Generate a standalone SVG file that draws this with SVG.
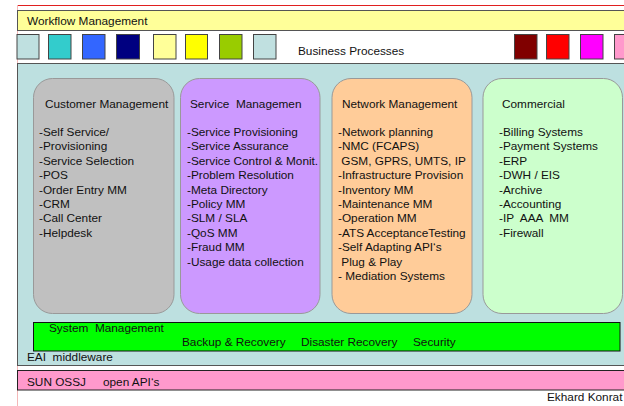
<svg xmlns="http://www.w3.org/2000/svg" width="624" height="406" viewBox="0 0 624 406">
  <style>
    text { font-family: "Liberation Sans", Arial, sans-serif; font-size: 11.8px; fill: #111; white-space: pre; }
    .band { stroke: #555; stroke-width: 1; }
    .sq { stroke: #444; stroke-width: 1; }
    .dom { stroke: #999; stroke-width: 1; }
  </style>

  <!-- page frame -->
  <line x1="17" y1="5.5" x2="624" y2="5.5" stroke="#e02020" stroke-width="1"/>
  <line x1="17.5" y1="5" x2="17.5" y2="406" stroke="#f4b8b8" stroke-width="1"/>

  <!-- workflow layer -->
  <g id="workflow">
    <rect x="17.5" y="10.5" width="620" height="20" fill="#ffff99" class="band"/>
    <text x="27" y="25">Workflow Management</text>
  </g>

  <!-- business process colour keys -->
  <g id="business-processes">
    <rect x="17" y="34.5" width="22" height="24.5" fill="#bfe0e0" class="sq"/>
    <rect x="48.5" y="34.5" width="22.5" height="24.5" fill="#33cccc" class="sq"/>
    <rect x="82.5" y="34.5" width="22.5" height="24.5" fill="#3366ff" class="sq"/>
    <rect x="116.5" y="34.5" width="23" height="24.5" fill="#000080" class="sq"/>
    <rect x="153.5" y="34.5" width="22.5" height="24.5" fill="#ffff99" class="sq"/>
    <rect x="185.5" y="34.5" width="22" height="24.5" fill="#ffff00" class="sq"/>
    <rect x="219.5" y="34.5" width="22.5" height="24.5" fill="#99cc00" class="sq"/>
    <rect x="253.5" y="34.5" width="22.5" height="24.5" fill="#c0e0e0" class="sq"/>
    <text x="298" y="55">Business Processes</text>
    <rect x="514.5" y="34.5" width="22.5" height="24.5" fill="#800000" class="sq"/>
    <rect x="546.5" y="34.5" width="22.5" height="24.5" fill="#ff0000" class="sq"/>
    <rect x="580.5" y="34.5" width="22.5" height="24.5" fill="#ff00ff" class="sq"/>
    <rect x="614.5" y="34.5" width="22.5" height="24.5" fill="#ff99cc" class="sq"/>
  </g>

  <!-- EAI middleware layer -->
  <g id="eai">
    <rect x="17.5" y="63.5" width="620" height="302" fill="#bde0e0" class="band"/>
    <text x="27" y="361">EAI  middleware</text>
  </g>

  <g id="customer-management">
    <rect x="33.5" y="78.5" width="140.5" height="235" rx="19" fill="#c0c0c0" class="dom"/>
    <text x="45" y="108">Customer Management</text>
    <text x="39" y="136">-Self Service/</text>
    <text x="39" y="150.4">-Provisioning</text>
    <text x="39" y="164.8">-Service Selection</text>
    <text x="39" y="179.2">-POS</text>
    <text x="39" y="193.6">-Order Entry MM</text>
    <text x="39" y="208">-CRM</text>
    <text x="39" y="222.4">-Call Center</text>
    <text x="39" y="236.8">-Helpdesk</text>
  </g>

  <g id="service-management">
    <rect x="180.5" y="78.5" width="139.5" height="235" rx="19" fill="#cc99ff" class="dom"/>
    <text x="190" y="108">Service  Managemen</text>
    <text x="187" y="136">-Service Provisioning</text>
    <text x="187" y="150.4">-Service Assurance</text>
    <text x="187" y="164.8">-Service Control &amp; Monit.</text>
    <text x="187" y="179.2">-Problem Resolution</text>
    <text x="187" y="193.6">-Meta Directory</text>
    <text x="187" y="208">-Policy MM</text>
    <text x="187" y="222.4">-SLM / SLA</text>
    <text x="187" y="236.8">-QoS MM</text>
    <text x="187" y="251.2">-Fraud MM</text>
    <text x="187" y="265.6">-Usage data collection</text>
  </g>

  <g id="network-management">
    <rect x="332" y="78.5" width="140" height="235" rx="19" fill="#ffcc99" class="dom"/>
    <text x="342" y="108">Network Management</text>
    <text x="338" y="136">-Network planning</text>
    <text x="338" y="150.4">-NMC (FCAPS)</text>
    <text x="338" y="164.8"> GSM, GPRS, UMTS, IP</text>
    <text x="338" y="179.2">-Infrastructure Provision</text>
    <text x="338" y="193.6">-Inventory MM</text>
    <text x="338" y="208">-Maintenance MM</text>
    <text x="338" y="222.4">-Operation MM</text>
    <text x="338" y="236.8">-ATS AcceptanceTesting</text>
    <text x="338" y="251.2">-Self Adapting API‘s</text>
    <text x="338" y="265.6"> Plug &amp; Play</text>
    <text x="338" y="280">- Mediation Systems</text>
  </g>

  <g id="commercial">
    <rect x="483" y="78.5" width="139.5" height="235" rx="19" fill="#ccffcc" class="dom"/>
    <text x="502" y="108">Commercial</text>
    <text x="499" y="136">-Billing Systems</text>
    <text x="499" y="150.4">-Payment Systems</text>
    <text x="499" y="164.8">-ERP</text>
    <text x="499" y="179.2">-DWH / EIS</text>
    <text x="499" y="193.6">-Archive</text>
    <text x="499" y="208">-Accounting</text>
    <text x="499" y="222.4">-IP  AAA  MM</text>
    <text x="499" y="236.8">-Firewall</text>
  </g>

  <g id="system-management">
    <rect x="33.5" y="322.5" width="586.5" height="28.5" fill="#00ff00" stroke="#111" stroke-width="1"/>
    <text x="49" y="332">System  Management</text>
    <text x="182" y="346">Backup &amp; Recovery</text>
    <text x="301" y="346">Disaster Recovery</text>
    <text x="413" y="346">Security</text>
  </g>

  <g id="oss-api">
    <rect x="17.5" y="370.5" width="620" height="19.5" fill="#ff99cc" stroke="#222" stroke-width="1"/>
    <text x="27" y="386">SUN OSSJ</text>
    <text x="103" y="386">open API‘s</text>
  </g>

  <text x="547" y="401">Ekhard Konrat</text>

  <!-- no connectors in this layer diagram -->
  <g id="connectors"/>
</svg>
